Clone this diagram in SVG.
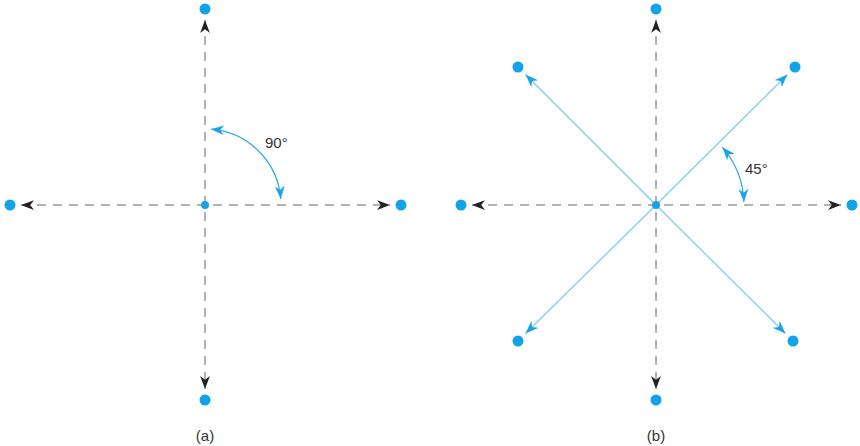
<svg xmlns="http://www.w3.org/2000/svg" width="860" height="446" viewBox="0 0 860 446">
<style>
.dash{stroke:#666;stroke-width:1;stroke-dasharray:9 7;fill:none}
.diag{stroke:#7ccbec;stroke-width:1.2;fill:none}
.arc{stroke:#29a9e6;stroke-width:1.2;fill:none}
.dot{fill:#12a2e8}
.lbl{font-family:"Liberation Sans",Arial,sans-serif;font-size:15px;fill:#333}
</style>
<defs>
<marker id="ak" markerWidth="13" markerHeight="10" refX="12" refY="4.5" orient="auto-start-reverse" markerUnits="userSpaceOnUse" viewBox="0 0 12 9">
<path d="M0,0 L12,4.5 L0,9 L3.5,4.5 z" fill="#222"/>
</marker>
<marker id="ab" markerWidth="13" markerHeight="10" refX="12" refY="4.5" orient="auto-start-reverse" markerUnits="userSpaceOnUse" viewBox="0 0 12 9">
<path d="M0,0 L12,4.5 L0,9 L3.5,4.5 z" fill="#1aa3e8"/>
</marker>
</defs>
<g id="connectors">
<path class="dash" d="M21,205 L390,205" marker-start="url(#ak)" marker-end="url(#ak)"/>
<path class="dash" d="M205,20 L205,389" marker-start="url(#ak)" marker-end="url(#ak)"/>
<path class="arc" d="M211,129.2 A76,76 0 0 1 280.8,199" marker-start="url(#ab)" marker-end="url(#ab)"/>
<path class="dash" d="M472,205 L841,205" marker-start="url(#ak)" marker-end="url(#ak)"/>
<path class="dash" d="M656,20 L656,389" marker-start="url(#ak)" marker-end="url(#ak)"/>
<path class="diag" d="M656,205 L525.5,74.5" marker-end="url(#ab)"/>
<path class="diag" d="M656,205 L787.5,74.5" marker-end="url(#ab)"/>
<path class="diag" d="M656,205 L525.5,333.5" marker-end="url(#ab)"/>
<path class="diag" d="M656,205 L785.5,333.5" marker-end="url(#ab)"/>
<path class="arc" d="M722.4,147.3 A88,88 0 0 1 743.9,201.9" marker-start="url(#ab)" marker-end="url(#ab)"/>
</g>
<g id="diagram-a">
<circle id="a-center" class="dot" cx="205" cy="205" r="4"/>
<circle id="a-top" class="dot" cx="205" cy="9" r="5.5"/>
<circle id="a-bottom" class="dot" cx="205" cy="400" r="5.5"/>
<circle id="a-left" class="dot" cx="10" cy="205" r="5.5"/>
<circle id="a-right" class="dot" cx="401" cy="205" r="5.5"/>
<text class="lbl" x="265" y="148">90°</text>
<text class="lbl" x="205" y="441" text-anchor="middle">(a)</text>
</g>
<g id="diagram-b">
<circle id="b-center" class="dot" cx="656" cy="205" r="4"/>
<circle id="b-top" class="dot" cx="656" cy="9" r="5.5"/>
<circle id="b-bottom" class="dot" cx="656" cy="400" r="5.5"/>
<circle id="b-left" class="dot" cx="461" cy="205" r="5.5"/>
<circle id="b-right" class="dot" cx="852" cy="205" r="5.5"/>
<circle id="b-tl" class="dot" cx="518" cy="67" r="5.5"/>
<circle id="b-tr" class="dot" cx="795" cy="67" r="5.5"/>
<circle id="b-bl" class="dot" cx="518" cy="341" r="5.5"/>
<circle id="b-br" class="dot" cx="793" cy="341" r="5.5"/>
<text class="lbl" x="745" y="174">45°</text>
<text class="lbl" x="656" y="441" text-anchor="middle">(b)</text>
</g>
</svg>
